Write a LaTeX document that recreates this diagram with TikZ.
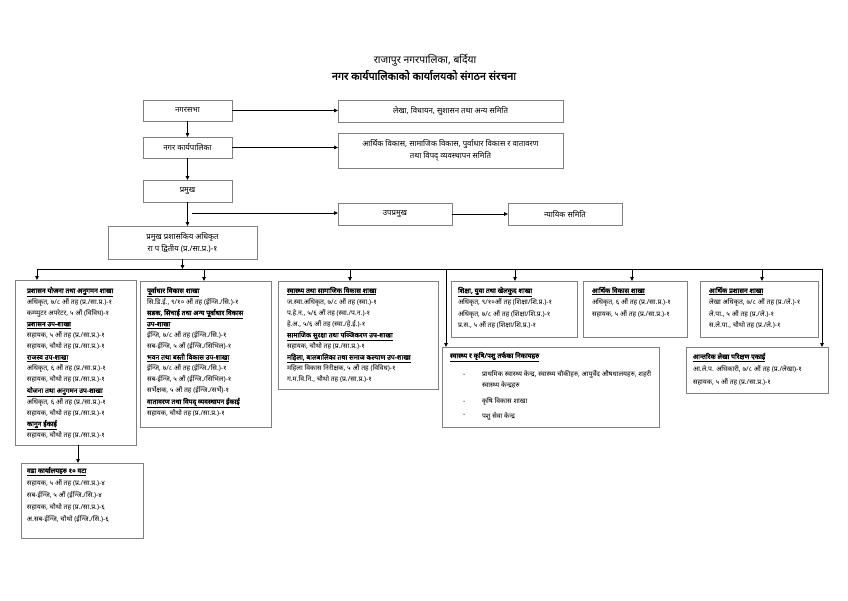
\documentclass[tikz,border=0pt]{standalone}
\usepackage{fontspec}
\setmainfont[Script=Devanagari]{Noto Sans}
\newfontfamily\devbold[Script=Devanagari,FakeBold=1.6]{Noto Sans}
\usetikzlibrary{arrows.meta}
\definecolor{bord}{gray}{0.5}
\newcommand\hd[1]{{\devbold\underline{#1}}}
\newcommand\mkbox[6]{\node[bx, minimum width={#4-#2}, minimum height={#5-#3}] (#1) at ({(#2+#4)/2},{(#3+#5)/2}) {#6};}
\newcommand\mklines[5]{\foreach \mytext [count=\i from 0] in {#5} {\node[txt, anchor=base west] (#1-\i) at (#2,{#3+\i*#4}) {\mytext};}}
\begin{document}
\begin{tikzpicture}[x=1pt,y=-1pt,
 bx/.style={draw=bord, line width=0.6pt, rectangle, inner sep=0pt, outer sep=0pt, align=center, font=\fontsize{7.8}{12}\selectfont},
 txt/.style={inner sep=0pt, outer sep=0pt, font=\fontsize{6.8}{8}\selectfont},
 conn/.style={draw=black, line width=0.8pt, -{Triangle[length=4pt,width=3.5pt]}},
 busline/.style={draw=black, line width=0.8pt}]
\path[fill=white] (0,0) rectangle (848,600);
\useasboundingbox (0,0) rectangle (848,600);
% titles
\node[inner sep=0pt, font=\fontsize{10.3}{12}\selectfont] (t1) at (425,60) {राजापुर नगरपालिका, बर्दिया};
\node[inner sep=0pt, font=\devbold\fontsize{10.8}{12}\selectfont] (t2) at (424,75) {नगर कार्यपालिकाको कार्यालयको संगठन संरचना};
% top boxes
\mkbox{sabha}{143}{100}{232}{121}{नगरसभा}
\mkbox{lekha}{338}{100}{563}{122}{लेखा, विधायन, सुशासन तथा अन्य समिति}
\mkbox{karya}{143}{137}{232}{158}{नगर कार्यपालिका}
\mkbox{arthik}{338}{133}{563}{168}{आर्थिक विकास, सामाजिक विकास, पुर्वाधार विकास र वातावरण\\ तथा विपद् व्यवस्थापन समिति}
\mkbox{pramukh}{143}{180}{232}{202}{प्रमुख}
\mkbox{upa}{338}{203}{452}{225}{उपप्रमुख}
\mkbox{nyaya}{508}{203}{622}{225}{न्यायिक समिति}
\mkbox{cao}{108}{226}{257}{259}{प्रमुख प्रशासकिय अधिकृत\\ रा प द्वितीय (प्र./सा.प्र.)-१}
% content boxes
\mkbox{b1}{15}{280}{136}{445}{}
\mkbox{b2}{140}{281}{271}{427}{}
\mkbox{b3}{278}{281}{438}{389}{}
\mkbox{b4}{451}{281}{577}{337}{}
\mkbox{b5}{583}{281}{687}{337}{}
\mkbox{b6}{700}{281}{818}{337}{}
\mkbox{b7}{442}{347}{659}{427}{}
\mkbox{b8}{686}{347}{828}{393}{}
\mkbox{wada}{21}{463}{143}{538}{}
% texts
\mklines{l1}{27}{293}{11.1}{{\hd{प्रशासन योजना तथा अनुगमन शाखा}},{अधिकृत, ७/८ औं तह (प्र./सा.प्र.)-१},{कम्प्युटर अपरेटर, ५ औं (विविध)-१},{\hd{प्रशासन उप-शाखा}},{सहायक, ५ औं तह (प्र./सा.प्र.)-१},{सहायक, चौथो तह (प्र./सा.प्र.)-१},{\hd{राजस्व उप-शाखा}},{अधिकृत, ६ औं तह (प्र./सा.प्र.)-१},{सहायक, चौथो तह (प्र./सा.प्र.)-१},{\hd{योजना तथा अनुगमन उप-शाखा}},{अधिकृत, ६ औं तह (प्र./सा.प्र.)-१},{सहायक, चौथो तह (प्र./सा.प्र.)-१},{\hd{कानुन ईकाई}},{सहायक, चौथो तह (प्र./सा.प्र.)-१}}
\mklines{l2}{147}{293}{11.1}{{\hd{पूर्वाधार विकास शाखा}},{सि.डि.ई., ९/१० औं तह (ईन्जि./सि.)-१},{\hd{सडक, सिचाई तथा अन्य पूर्वाधार विकास}},{\hd{उप-शाखा}},{ईन्जि, ७/८ औं तह (ईन्जि./सि.)-१},{सब-ईन्जि, ५ औं (ईन्जि./सिभिल)-१},{\hd{भवन तथा बस्ती विकास उप-शाखा}},{ईन्जि, ७/८ औं तह (ईन्जि./सि.)-१},{सब-ईन्जि, ५ औं (ईन्जि./सिभिल)-१},{सर्भेक्षक, ५ औं तह (ईन्जि./सर्भे)-१},{\hd{वातावरण तथा विपद् व्यवस्थापन ईकाई}},{सहायक, चौथो तह (प्र./सा.प्र.)-१}}
\mklines{l3}{287}{293}{11.1}{{\hd{स्वास्थ्य तथा सामाजिक विकास शाखा}},{ज.स्वा.अधिकृत, ७/८ औं तह (स्वा.)-१},{प.हे.न., ५/६ औं तह (स्वा./प.न.)-१},{हे.अ., ५/६ औं तह (स्वा./हे.ई.)-१},{\hd{सामाजिक सुरक्षा तथा पञ्जिकरण उप-शाखा}},{सहायक, चौथो तह (प्र./सा.प्र.)-१},{\hd{महिला, बालबालिका तथा समाज कल्याण उप-शाखा}},{महिला विकास निरीक्षक, ५ औं तह (विविध)-१},{ग.म.वि.नि., चौथो तह (प्र./सा.प्र.)-१}}
\mklines{l4}{458}{293}{11.5}{{\hd{शिक्षा, युवा तथा खेलकुद शाखा}},{अधिकृत, ९/१०औं तह (शिक्षा/शि.प्र.)-१},{अधिकृत, ७/८ औं तह (शिक्षा/शि.प्र.)-१},{प्र.स., ५ औं तह (शिक्षा/शि.प्र.)-१}}
\mklines{l5}{592}{293}{11.5}{{\hd{आर्थिक विकास शाखा}},{अधिकृत, ६ औं तह (प्र./सा.प्र.)-१},{सहायक, ५ औं तह (प्र./सा.प्र.)-१}}
\mklines{l6}{709}{293}{11.5}{{\hd{आर्थिक प्रशासन शाखा}},{लेखा अधिकृत, ७/८ औं तह (प्र./ले.)-१},{ले.पा., ५ औं तह (प्र./ले.)-१},{स.ले.पा., चौथो तह (प्र./ले.)-१}}
\mklines{l7}{450}{358}{0}{{\hd{स्वास्थ्य र कृषि/पशु तर्फका निकायहरु}}}
\mklines{l7d}{463}{376}{13.5}{{-},{},{-},{-}}
\mklines{l7t}{482}{376}{0}{{प्राथमिक स्वास्थ्य केन्द्र, स्वास्थ्य चौकीहरु, आयुर्वेद औषधालयहरु, शहरी}}
\mklines{l7u}{482}{387}{0}{{स्वास्थ्य केन्द्रहरु}}
\mklines{l7v}{482}{403}{15}{{कृषि विकास शाखा},{पशु सेवा केन्द्र}}
\mklines{l8}{693}{359}{12.5}{{\hd{आन्तरिक लेखा परिक्षण एकाई}},{आ.ले.प. अधिकारी, ७/८ औं तह (प्र./लेखा)-१},{सहायक, ५ औं तह (प्र./सा.प्र.)-१}}
\mklines{l9}{27}{473}{12}{{\hd{वडा कार्यालयहरु १० वटा}},{सहायक, ५ औं तह (प्र./सा.प्र.)-४},{सब-ईन्जि, ५ औं (ईन्जि./सि.)-४},{सहायक, चौथो तह (प्र./सा.प्र.)-६},{अ.सब-ईन्जि, चौथो (ईन्जि./सि.)-६}}
% coordinates
\coordinate (hs) at (192,213);
\coordinate (busL) at (37,269);
\coordinate (busR) at (822,269);
\coordinate (d2) at (204,269);
\coordinate (d3) at (350,269);
\coordinate (d7) at (446,269);
\coordinate (d4) at (515,269);
\coordinate (d5) at (632,269);
\coordinate (d6) at (762,269);
\coordinate (d9) at (78,0);
% connectors
\draw[conn] (sabha.east) -- (sabha.east -| lekha.west);
\draw[conn] (karya.east) -- (karya.east -| arthik.west);
\draw[conn] (sabha.south) -- (karya.north);
\draw[conn] (karya.south) -- (pramukh.north);
\draw[conn] (pramukh.south) -- (pramukh.south |- cao.north);
\draw[conn] (hs) -- (hs -| upa.west);
\draw[conn] (upa.east) -- (upa.east -| nyaya.west);
\draw[conn] (cao.south) -- (cao.south |- busL);
\draw[busline] (busL) -- (busR);
\draw[conn] (busL) -- (busL |- b1.north);
\draw[conn] (d2) -- (d2 |- b2.north);
\draw[conn] (d3) -- (d3 |- b3.north);
\draw[conn] (d7) -- (d7 |- b7.north);
\draw[conn] (d4) -- (d4 |- b4.north);
\draw[conn] (d5) -- (d5 |- b5.north);
\draw[conn] (d6) -- (d6 |- b6.north);
\draw[conn] (busR) -- (busR |- b8.north);
\draw[conn] (b1.south -| d9) -- (wada.north -| d9);
\end{tikzpicture}
\end{document}
